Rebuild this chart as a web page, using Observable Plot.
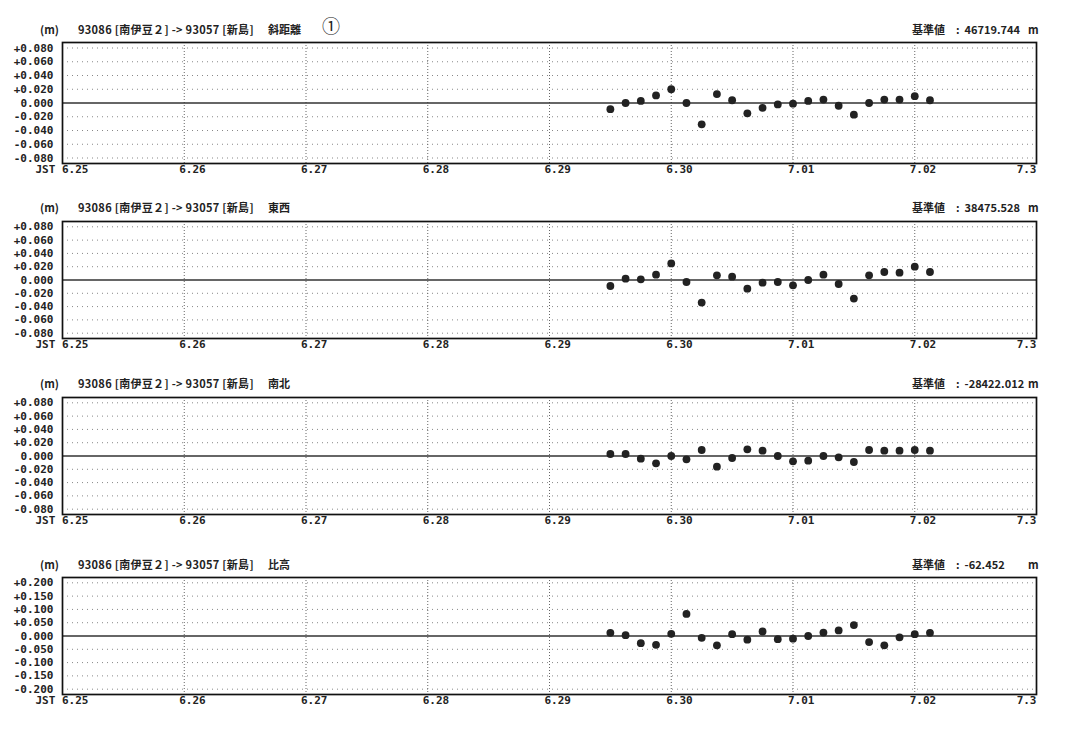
<!DOCTYPE html>
<html><head><meta charset="utf-8">
<script src="https://cdn.jsdelivr.net/npm/d3@7"></script>
<script src="https://cdn.jsdelivr.net/npm/@observablehq/plot@0.6"></script>
<style>
body{margin:0;background:#fff;width:1073px;height:748px;position:relative;overflow:hidden;font-family:"Noto Sans CJK JP","DejaVu Sans",sans-serif;color:#222}
.h{position:absolute;font-size:11px;line-height:12px;white-space:nowrap;font-weight:bold}
.p{position:absolute;left:0}
</style></head><body>
<script>
// ---- data ----
const dayLabels = ["6.25","6.26","6.27","6.28","6.29","6.30","7.01","7.02","7.3"];
const times = ["6.29 12:00","6.29 15:00","6.29 18:00","6.29 21:00",
  "6.30 00:00","6.30 03:00","6.30 06:00","6.30 09:00","6.30 12:00","6.30 15:00","6.30 18:00","6.30 21:00",
  "7.01 00:00","7.01 03:00","7.01 06:00","7.01 09:00","7.01 12:00","7.01 15:00","7.01 18:00","7.01 21:00",
  "7.02 00:00","7.02 03:00"];
const slopeDist = [-0.009,0.000,0.003,0.011,0.020,0.000,-0.031,0.013,0.004,-0.015,-0.007,-0.002,-0.001,0.003,0.005,-0.004,-0.017,0.000,0.005,0.005,0.010,0.004];
const eastWest  = [-0.009,0.002,0.001,0.008,0.025,-0.003,-0.034,0.007,0.005,-0.013,-0.004,-0.003,-0.008,0.000,0.008,-0.006,-0.028,0.007,0.012,0.011,0.020,0.012];
const northSouth= [0.003,0.003,-0.004,-0.011,0.000,-0.005,0.009,-0.016,-0.003,0.010,0.008,0.000,-0.008,-0.007,0.000,-0.002,-0.009,0.009,0.008,0.008,0.009,0.008];
const heightDiff= [0.012,0.003,-0.027,-0.033,0.008,0.083,-0.007,-0.035,0.007,-0.014,0.017,-0.012,-0.010,0.000,0.013,0.021,0.041,-0.023,-0.035,-0.005,0.007,0.012];
const panelNames = ["斜距離","東西","南北","比高"];
const baseValues = ["46719.744","38475.528","-28422.012","-62.452"];
const ticksSmall = [-0.08,-0.06,-0.04,-0.02,0,0.02,0.04,0.06,0.08];
const ticksLarge = [-0.2,-0.15,-0.1,-0.05,0,0.05,0.1,0.15,0.2];
const route = "93086 [南伊豆２] -> 93057 [新島]";

// ---- helpers ----
function dayOffset(s){ // "6.29 12:00" -> days since 6.25 00:00
  const [d,t]=s.split(" "); const [m,dd]=d.split(".").map(Number); const hh=+t.split(":")[0];
  const base = m===6 ? dd-25 : 30-25+dd;
  return base + hh/24;
}
const xs = times.map(dayOffset);
const series = [slopeDist,eastWest,northSouth,heightDiff];
const frames = [[42,163],[221,338],[397,514],[577,694]];
const headerY = [23,201,377,558];

series.forEach((vals,i)=>{
  const big = i===3;
  const ticks = big ? ticksLarge : ticksSmall;
  const lim = big ? 0.22 : 0.088;
  const fmt = v => (v>0?"+":"") + v.toFixed(3);
  const data = xs.map((x,j)=>({x, y: vals[j]}));
  const [t,b] = frames[i];
  const mt=2, mb=26;
  const dayIdx = dayLabels.map((_,k)=>k);
  const lab = {frameAnchor:"bottom",lineAnchor:"top",dy:2,fontWeight:"bold",fill:"#222"};
  const plot = Plot.plot({
    width:1073, height: mt+(b-t)+mb,
    marginTop:mt, marginBottom:mb, marginLeft:62, marginRight:37,
    style:{fontFamily:"'DejaVu Sans Mono','Liberation Mono',monospace", fontSize:"11px", color:"#222", background:"transparent"},
    x:{domain:[0,8], axis:null},
    y:{domain:[-lim,lim], axis:null},
    marks:[
      Plot.ruleY(ticks.filter(v=>v!==0),{stroke:"#888",strokeWidth:1,strokeDasharray:"1,4"}),
      Plot.ruleX(dayIdx.slice(1,8),{stroke:"#666",strokeWidth:1,strokeDasharray:"1,2"}),
      Plot.ruleY([0],{stroke:"#333",strokeWidth:1.3}),
      Plot.frame({stroke:"#111",strokeWidth:1.7}),
      Plot.text(ticks,{x:0,y:d=>d,text:fmt,textAnchor:"end",dx:-9,fontWeight:"bold",fill:"#222"}),
      Plot.text(dayIdx.slice(0,1),{...lab,x:d=>d,text:d=>"JST "+dayLabels[d],textAnchor:"start",dx:-27}),
      Plot.text(dayIdx.slice(1,8),{...lab,x:d=>d,text:d=>dayLabels[d],textAnchor:"start",dx:-5}),
      Plot.text(dayIdx.slice(8),{...lab,x:d=>d,text:d=>dayLabels[d],textAnchor:"end",dx:0}),
      Plot.dot(data,{x:"x",y:"y",r:3.9,fill:"#222",stroke:"none"})
    ]
  });
  const wrap=document.createElement("div"); wrap.className="p"; wrap.style.top=(t-mt)+"px";
  wrap.appendChild(plot); document.body.appendChild(wrap);
  const hy=headerY[i];
  const add=(x,txt,extra)=>{const d=document.createElement("div");d.className="h";d.style.left=x+"px";d.style.top=hy+"px";d.textContent=txt;if(extra)Object.assign(d.style,extra);document.body.appendChild(d);};
  add(40,"(m)");
  add(78,route,{letterSpacing:"0.3px"});
  add(268,panelNames[i]);
  if(i===0) add(322,"①",{fontSize:"18px",top:(hy-4)+"px",fontWeight:"normal"});
  add(912,"基準値");
  add(956,":  "+baseValues[i],{whiteSpace:"pre"});
  add(1028,"m");
});
</script>
</body></html>
